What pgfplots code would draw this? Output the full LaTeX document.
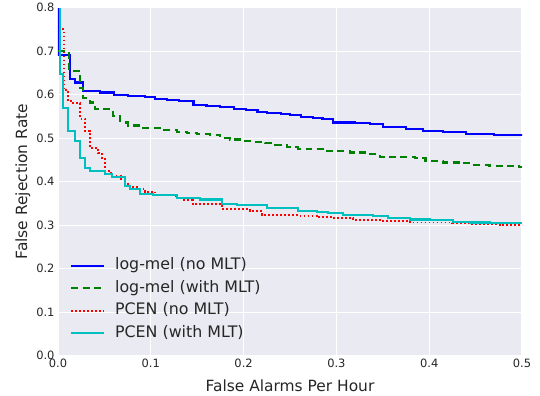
\documentclass[border=0pt]{standalone}
\usepackage{fontspec}
\setmainfont{DejaVu Sans}
\usepackage{pgfplots}
\pgfplotsset{compat=1.18}

\definecolor{sbbg}{HTML}{EAEAF2}
\definecolor{txt}{HTML}{262626}
\definecolor{cblue}{rgb}{0,0,1}
\definecolor{cgreen}{rgb}{0,0.5,0}
\definecolor{cred}{rgb}{1,0,0}
\definecolor{ccyan}{rgb}{0,0.75,0.75}

\begin{document}
\begin{tikzpicture}
\path (-58bp,-40bp) rectangle (482bp,355bp);
\begin{axis}[
  at={(0,0)}, anchor=south west,
  scale only axis, width=464bp, height=348bp,
  xmin=0, xmax=0.5, ymin=0, ymax=0.8,
  xtick={0,0.1,0.2,0.3,0.4,0.5},
  ytick={0,0.1,0.2,0.3,0.4,0.5,0.6,0.7,0.8},
  axis background/.style={fill=sbbg},
  axis line style={draw=none},
  tick style={draw=none},
  grid=major,
  major grid style={draw=white, line width=1.1bp},
  /pgf/number format/assume math mode=true,
  xticklabel style={/pgf/number format/fixed, /pgf/number format/fixed zerofill, /pgf/number format/precision=1},
  yticklabel style={/pgf/number format/fixed, /pgf/number format/fixed zerofill, /pgf/number format/precision=1},
  ticklabel style={font=\fontsize{11.5}{13}\selectfont, text=txt},
  xlabel={False Alarms Per Hour},
  ylabel={False Rejection Rate},
  label style={font=\fontsize{15.5}{18}\selectfont, text=txt},
  xlabel style={at={(axis description cs:0.5,0)}, anchor=base, yshift=-36bp},
  ylabel style={at={(axis description cs:-0.0668,0.5)}, anchor=base},
  legend cell align=left,
  legend image code/.code={\draw[#1] (0bp,0bp) -- (33bp,0bp);},
  legend style={
    draw=none, fill=none,
    at={(axis cs:0.0095,0.232)}, anchor=north west,
    font=\fontsize{15.9}{18}\selectfont, text=txt,
    nodes={inner sep=2bp, text height=11bp, text depth=3bp},
    row sep=4.5bp, column sep=8bp,
  },
]
% log-mel, no MLT
\addplot[const plot, draw=cblue, line width=2.1bp] coordinates {
(0,0.80) (0,0.692) (0.013,0.637) (0.0183,0.628) (0.0269,0.609) (0.045,0.605)
(0.06,0.600) (0.075,0.597) (0.094,0.595) (0.105,0.591) (0.117,0.588) (0.13,0.585)
(0.146,0.577) (0.16,0.574) (0.175,0.571) (0.19,0.568) (0.203,0.565) (0.215,0.561)
(0.225,0.558) (0.24,0.555) (0.25,0.553) (0.262,0.549) (0.275,0.546) (0.285,0.543)
(0.296,0.536) (0.32,0.534) (0.336,0.532) (0.35,0.525) (0.375,0.522) (0.393,0.517)
(0.415,0.515) (0.44,0.510) (0.47,0.507) (0.5,0.505)
};
\addlegendentry{log-mel (no MLT)}
% log-mel, with MLT
\addplot[const plot, draw=cgreen, line width=2.1bp, dash pattern=on 7bp off 4.5bp] coordinates {
(0,0.70) (0.0118,0.655) (0.0237,0.616) (0.027,0.593) (0.034,0.582) (0.040,0.566)
(0.0593,0.550) (0.067,0.536) (0.075,0.529) (0.087,0.524) (0.113,0.519) (0.128,0.515)
(0.139,0.512) (0.15,0.509) (0.164,0.507) (0.175,0.500) (0.185,0.497) (0.199,0.493)
(0.21,0.492) (0.223,0.488) (0.234,0.484) (0.247,0.479) (0.259,0.476) (0.272,0.475)
(0.285,0.471) (0.297,0.470) (0.315,0.467) (0.334,0.463) (0.347,0.457) (0.363,0.456)
(0.385,0.454) (0.396,0.448) (0.415,0.444) (0.433,0.442) (0.447,0.439) (0.465,0.437)
(0.487,0.436) (0.497,0.433) (0.5,0.433)
};
\addlegendentry{log-mel (with MLT)}
% PCEN, no MLT
\addplot[const plot, draw=cred, line width=1.9bp, dash pattern=on 1.8bp off 2.2bp] coordinates {
(0.004,0.75) (0.006,0.610) (0.011,0.586) (0.016,0.580) (0.0237,0.545) (0.029,0.517)
(0.0345,0.478) (0.043,0.465) (0.047,0.455) (0.0506,0.425) (0.057,0.414) (0.068,0.407)
(0.072,0.395) (0.078,0.388) (0.087,0.384) (0.094,0.377) (0.105,0.370) (0.127,0.363)
(0.136,0.358) (0.145,0.349) (0.177,0.338) (0.207,0.333) (0.22,0.324) (0.26,0.322)
(0.279,0.318) (0.296,0.316) (0.318,0.312) (0.35,0.309) (0.379,0.306) (0.425,0.304)
(0.444,0.302) (0.476,0.300) (0.5,0.300)
};
\addlegendentry{PCEN (no MLT)}
% PCEN, with MLT
\addplot[const plot, draw=ccyan, line width=2.1bp] coordinates {
(0.002,0.80) (0.002,0.648) (0.0057,0.570) (0.011,0.517) (0.0183,0.494) (0.0237,0.455)
(0.029,0.432) (0.0345,0.425) (0.0506,0.418) (0.058,0.411) (0.072,0.391) (0.078,0.384)
(0.088,0.372) (0.102,0.370) (0.128,0.363) (0.153,0.359) (0.177,0.349) (0.193,0.347)
(0.225,0.340) (0.259,0.333) (0.279,0.331) (0.291,0.327) (0.307,0.323) (0.339,0.320)
(0.356,0.317) (0.379,0.313) (0.401,0.311) (0.426,0.308) (0.444,0.306) (0.466,0.304)
(0.5,0.304)
};
\addlegendentry{PCEN (with MLT)}
\end{axis}
\end{tikzpicture}
\end{document}
